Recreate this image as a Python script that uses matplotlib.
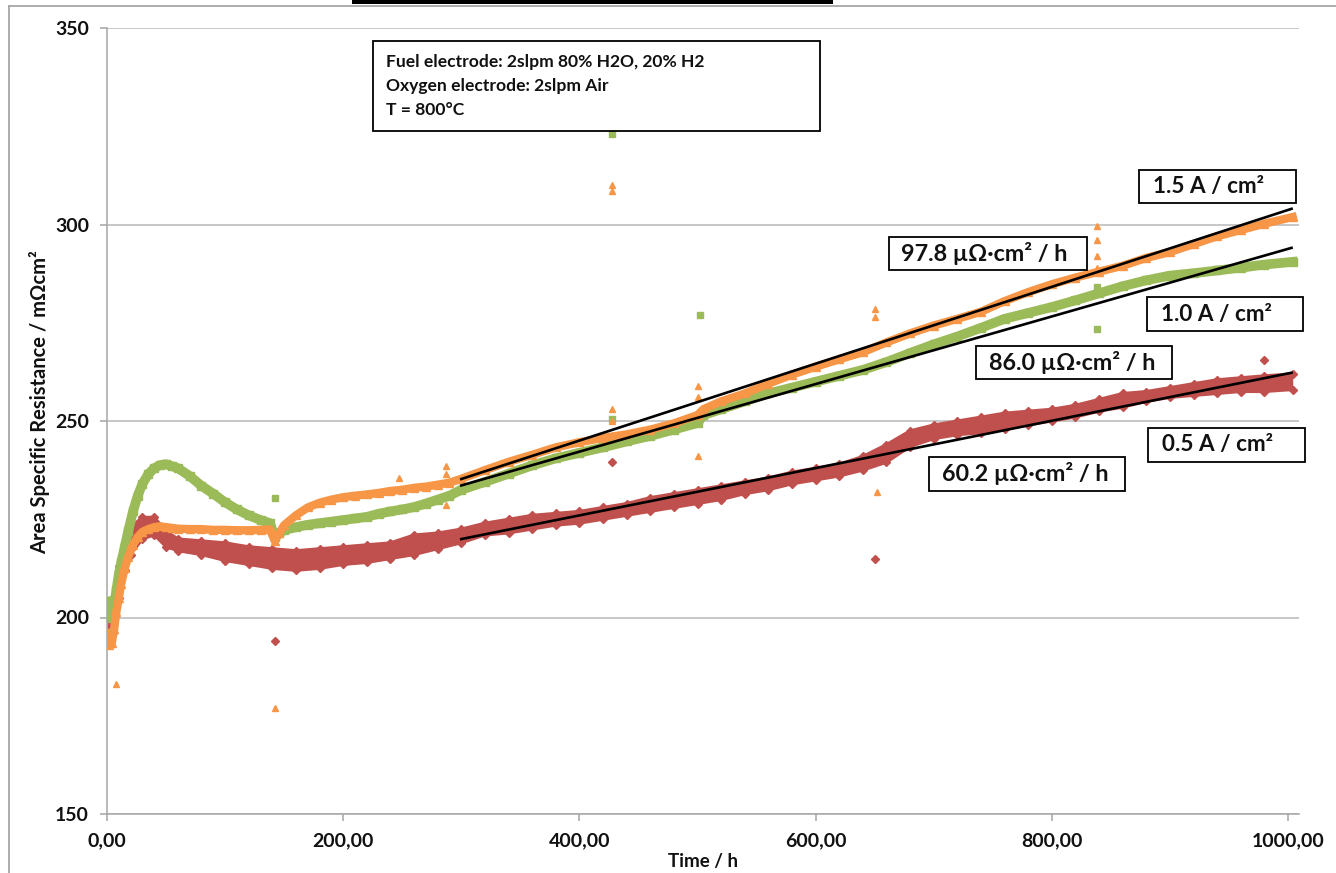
import numpy as np
import matplotlib
matplotlib.use("Agg")
import matplotlib.pyplot as plt
from matplotlib.patches import Rectangle
from matplotlib.lines import Line2D
from matplotlib.ticker import FuncFormatter

plt.rcParams['font.family'] = ['Lato', 'DejaVu Sans']
plt.rcParams['font.weight'] = 'bold'

# ---------------- data ----------------
t_go = [0, 2, 4, 6, 8, 10, 12, 15, 18, 22, 26, 30, 35, 40, 45, 50, 55, 60, 70, 80,
        90, 100, 110, 120, 130, 138, 142, 146, 150, 160, 170, 180, 190, 200, 210,
        220, 230, 240, 250, 260, 270, 280, 290, 300, 320, 340, 360, 380, 400, 420,
        440, 460, 480, 500, 505, 520, 540, 560, 580, 600, 620, 640, 660, 680, 700,
        720, 740, 760, 780, 800, 820, 840, 860, 880, 900, 920, 940, 960, 980, 1004]

asr_1_0 = [204, 201, 200, 203, 207, 211, 214, 218, 222, 227, 231, 234, 236.5, 238,
           238.8, 239, 238.5, 238, 236, 233.5, 231.5, 229.3, 227.5, 226, 224.8, 224,
           220.5, 221.5, 222.2, 223, 223.6, 224, 224.4, 224.8, 225.2, 225.6, 226.4,
           227, 227.5, 228.1, 229, 230, 231, 232.5, 234.5, 236.6, 238.7, 240.5, 241.9,
           243.3, 244.8, 246.2, 247.8, 249.5, 251.5, 253, 255, 257, 258.5, 260, 261.5,
           263, 265, 267.3, 269.5, 271.5, 273.7, 276, 277.5, 279, 280.7, 282.5, 284.3,
           285.8, 287, 287.6, 288.3, 289, 289.8, 290.5]

asr_1_5 = [196, 193, 193.5, 197, 201.5, 205, 208.5, 212.5, 215.5, 218.5, 220.5, 221.8,
           222.5, 223, 223.2, 223, 222.8, 222.6, 222.5, 222.5, 222.3, 222.3, 222.2,
           222.2, 222.3, 222.4, 219.5, 221.5, 223.5, 226, 228, 229.2, 230, 230.6, 231,
           231.3, 231.7, 232.2, 232.5, 233, 233.3, 233.8, 234.3, 235.3, 237.5, 239.6,
           241.4, 243.3, 244.6, 245.7, 246.6, 247.8, 249.4, 251.5, 253, 255, 257, 259.5,
           261.8, 263.8, 265.7, 267.5, 270, 272.3, 274.3, 276, 277.8, 280.5, 282.8,
           284.8, 286.5, 288, 289.5, 291.5, 293, 295, 297, 298.6, 300.2, 301.9]

t_red = [0, 5, 10, 15, 20, 30, 40, 50, 60, 80, 100, 120, 140, 160, 180, 200, 220, 240,
         260, 280, 300, 320, 340, 360, 380, 400, 420, 440, 460, 480, 500, 520, 540,
         560, 580, 600, 620, 640, 660, 680, 700, 720, 740, 760, 780, 800, 820, 840,
         860, 880, 900, 920, 940, 960, 980, 1004]
asr_0_5_hi = [200, 205, 213, 219, 223, 225.5, 225.5, 222, 220, 219.5, 219, 218, 217.5,
              217, 217.5, 218, 218.5, 219, 221, 221.5, 222.5, 224, 225, 226, 226.5, 227,
              228, 229, 230.5, 231.5, 232.5, 233.5, 234.5, 235.5, 237, 238, 239, 241,
              244, 247.5, 249, 250, 251, 252, 252.5, 253, 254, 255.5, 257, 257.5, 258.5,
              259.5, 260.5, 261, 261.5, 262]
asr_0_5_lo = [194, 196, 205, 212, 216, 220, 221, 218, 217, 216, 214.5, 213.5, 212.5,
              212, 212.5, 213.5, 214, 215, 216, 217.5, 219, 221, 221.5, 222.5, 223.5,
              224, 225, 226, 227, 228, 229, 230, 231.5, 232.5, 234, 235, 236, 237.5,
              239.5, 243.5, 245.5, 246.5, 247, 248, 249, 250, 251, 252.5, 253.5, 255,
              256, 256.5, 257, 257.5, 257.5, 258]

# isolated readings away from the main bands
out_1_5_t = [8, 142, 428, 428, 428, 428, 247, 287, 287, 287, 500, 500, 500, 650, 650,
             652, 838, 838, 838, 838]
out_1_5_v = [183, 177, 308.5, 310, 253, 250, 235.5, 238.5, 236.5, 228.5, 241, 256, 259,
             276.5, 278.5, 232, 299.5, 296, 292, 289]
out_1_0_t = [428, 142, 502, 428, 838, 838]
out_1_0_v = [323, 230.3, 277, 250.5, 273.5, 284]
out_0_5_t = [142, 650, 428, 980]
out_0_5_v = [194, 215, 239.6, 265.5]

# linear degradation fits (slope in mOhm*cm2/h, intercept in mOhm*cm2)
fit_t = [300, 1003]
slope_1_5, icpt_1_5 = 0.0978, 205.9
slope_1_0, icpt_1_0 = 0.0860, 207.8
slope_0_5, icpt_0_5 = 0.0602, 201.9

x_ticks = [0, 200, 400, 600, 800, 1000]
y_ticks = [150, 200, 250, 300, 350]

c_green = '#9BBB59'
c_orange = '#F79646'
c_red = '#C0504D'

# ---------------- figure ----------------
W, H = 1336, 873
fig = plt.figure(figsize=(W / 100, H / 100), dpi=100)


def fx(x):
    return x / W


def fy(y):
    return 1 - y / H


ax = fig.add_axes([fx(107), fy(814), fx(1299) - fx(107), fy(28) - fy(814)])
ax.set_xlim(0, 1009.3)
ax.set_ylim(150, 350)

# measured bands
ax.fill_between(t_red, asr_0_5_lo, asr_0_5_hi, color=c_red, lw=0, zorder=2)
ax.plot(t_red, asr_0_5_hi, color=c_red, lw=2.2, marker='D', ms=4, zorder=2)
ax.plot(t_red, asr_0_5_lo, color=c_red, lw=2.2, marker='D', ms=4, zorder=2)
ax.plot(t_go, asr_1_0, color=c_green, lw=7, marker='s', ms=6, zorder=3)
ax.plot(t_go, asr_1_5, color=c_orange, lw=6, marker='^', ms=6, zorder=4)

ax.plot(out_0_5_t, out_0_5_v, ls='none', marker='D', ms=4, color=c_red, zorder=2)
ax.plot(out_1_0_t, out_1_0_v, ls='none', marker='s', ms=4.5, color=c_green, zorder=3)
ax.plot(out_1_5_t, out_1_5_v, ls='none', marker='^', ms=4.5, color=c_orange, zorder=4)

# fit lines
for s, a in [(slope_1_5, icpt_1_5), (slope_1_0, icpt_1_0), (slope_0_5, icpt_0_5)]:
    ax.plot(fit_t, [a + s * t for t in fit_t], color='black', lw=1.9, zorder=5)

# axes styling
grey = '#a6a6a6'
ax.set_xticks(x_ticks)
ax.set_yticks(y_ticks)
ax.yaxis.grid(True, color='#b8b8b8', lw=1.1)
ax.set_axisbelow(True)
for side in ('top', 'right'):
    ax.spines[side].set_visible(False)
for side in ('left', 'bottom'):
    ax.spines[side].set_color(grey)
    ax.spines[side].set_linewidth(1.1)
ax.tick_params(axis='both', direction='out', length=5, width=1.1, color=grey,
               labelsize=14, labelcolor='#111111')
ax.tick_params(axis='y', pad=8)
ax.tick_params(axis='x', pad=8)
ax.xaxis.set_major_formatter(FuncFormatter(lambda v, p: f"{v:.2f}".replace('.', ',')))
ax.yaxis.set_major_formatter(FuncFormatter(lambda v, p: f"{v:.0f}"))
for lbl in ax.get_xticklabels() + ax.get_yticklabels():
    lbl.set_fontweight('bold')

fig.text(fx(703), fy(861), 'Time / h', ha='center', va='center', fontsize=13.5,
         fontweight='bold', color='#111111')
fig.text(fx(40), fy(402), 'Area Specific Resistance / mΩcm²', rotation=90,
         ha='center', va='center', fontsize=14.5, fontweight='bold', color='#111111')

# outer chart frame and top bar
fig.add_artist(Line2D([fx(9), fx(9)], [fy(6), 0], color=grey, lw=1.3))
fig.add_artist(Line2D([fx(9), 1], [fy(6), fy(6)], color=grey, lw=1.3))
fig.add_artist(Rectangle((fx(352), fy(3.5)), fx(833) - fx(352), 1 - fy(3.5),
                         transform=fig.transFigure, color='black', lw=0))


def boxed(x0, y0, x1, y1, lines, size, lw=1.3, xpad=14, dy=None):
    fig.add_artist(Rectangle((fx(x0), fy(y1)), fx(x1) - fx(x0), fy(y0) - fy(y1),
                             transform=fig.transFigure, fill=False,
                             edgecolor='black', lw=lw, zorder=10))
    n = len(lines)
    step = dy if dy else 0
    yc = (y0 + y1) / 2 - step * (n - 1) / 2
    for i, s in enumerate(lines):
        fig.text(fx(x0 + xpad), fy(yc + i * step), s, ha='left', va='center',
                 fontsize=size, fontweight='bold', color='#111111', zorder=11)


boxed(373, 41, 820, 131,
      ['Fuel electrode: 2slpm 80% H2O, 20% H2',
       'Oxygen electrode: 2slpm Air',
       'T = 800°C'], 12.6, dy=24, xpad=13)

boxed(1139, 170, 1296, 203, ['1.5 A / cm²'], 16.2)
boxed(1147, 297, 1303, 331, ['1.0 A / cm²'], 16.2)
boxed(1148, 428, 1305, 462, ['0.5 A / cm²'], 16.2)

boxed(889, 237, 1087, 270, [f'{slope_1_5 * 1000:.1f} µΩ·cm² / h'], 16.8, xpad=12)
boxed(976, 346, 1172, 379, [f'{slope_1_0 * 1000:.1f} µΩ·cm² / h'], 16.8, xpad=13)
boxed(929, 457, 1125, 491, [f'{slope_0_5 * 1000:.1f} µΩ·cm² / h'], 16.8, xpad=13)

fig.savefig('out.png', dpi=100)
